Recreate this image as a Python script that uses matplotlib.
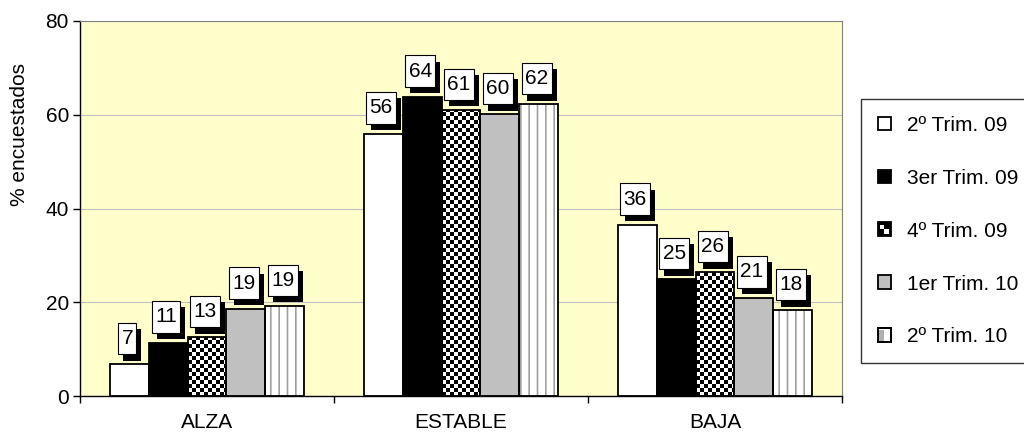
import numpy as np
import matplotlib.pyplot as plt
import matplotlib.patheffects as pe
from matplotlib.patches import Patch, Rectangle
from matplotlib.path import Path
from matplotlib.legend_handler import HandlerBase

plt.rcParams['font.family'] = ['Liberation Sans', 'DejaVu Sans']
plt.rcParams['hatch.linewidth'] = 1.2

categories = ['ALZA', 'ESTABLE', 'BAJA']
series = ['2º Trim. 09', '3er Trim. 09', '4º Trim. 09', '1er Trim. 10', '2º Trim. 10']

# bar heights, plus the rounded labels shown in the boxes
t2_09 = [6.8, 56.0, 36.5]
t3_09 = [11.4, 63.8, 24.9]
t4_09 = [12.5, 61.0, 26.4]
t1_10 = [18.6, 60.1, 21.0]
t2_10 = [19.2, 62.2, 18.3]
values = [t2_09, t3_09, t4_09, t1_10, t2_10]

lab_t2_09 = [7, 56, 36]
lab_t3_09 = [11, 64, 25]
lab_t4_09 = [13, 61, 26]
lab_t1_10 = [19, 60, 21]
lab_t2_10 = [19, 62, 18]
labels = [lab_t2_09, lab_t3_09, lab_t4_09, lab_t1_10, lab_t2_10]

yticks = [0, 20, 40, 60, 80]

FS = 15
W, H = 1024, 437
fig = plt.figure(figsize=(W / 100, H / 100), dpi=100)
ax = fig.add_axes([80 / W, 41 / H, 762 / W, 375 / H])
ax.set_facecolor('#FFFFCC')
ax.set_xlim(-0.5, 2.5)
ax.set_ylim(0, 80)

bw = 0.153
x = np.arange(len(categories))

# px per data unit, used to keep the checker cells square
px_x = 762 / 3.0
px_y = 375 / 80.0
cell = 4.0


def checker_fill(bar):
    x0 = bar.get_x()
    wd = bar.get_width()
    h = bar.get_height()
    dx = cell / px_x
    dy = cell / px_y
    nx = int(np.ceil(wd / dx)) + 1
    ny = int(np.ceil(h / dy)) + 1
    arr = np.indices((ny, nx)).sum(axis=0) % 2
    im = ax.imshow(arr, cmap='gray', vmin=0, vmax=1, interpolation='nearest',
                   extent=(x0, x0 + nx * dx, 0, ny * dy), origin='lower',
                   aspect='auto', zorder=2)
    im.set_clip_path(bar)


PAD_X, PAD_Y = 0.16, 0.30


def label_box(x0, y0, width, height, mutation_size):
    px = PAD_X * mutation_size
    py = PAD_Y * mutation_size
    x0, y0 = x0 - px, y0 - py
    x1, y1 = x0 + width + 2 * px, y0 + height + 2 * py
    return Path([(x0, y0), (x1, y0), (x1, y1), (x0, y1), (x0, y0)], closed=True)


styles = [
    dict(color='white'),
    dict(color='black'),
    dict(color='white'),
    dict(color='#C0C0C0'),
    dict(color='white', hatch='||', edgecolor='#A0A0A0', linewidth=0),
]

lift = 10 + PAD_Y * FS * 100 / 72
for j, (vals, labs) in enumerate(zip(values, labels)):
    pos = x + (j - 2) * bw
    bars = ax.bar(pos, vals, bw, zorder=2, **styles[j])
    if j == 2:
        for b in bars:
            checker_fill(b)
    ax.bar(pos, vals, bw, fill=False, edgecolor='black', linewidth=1.3, zorder=3)
    for xp, v, lab in zip(pos, vals, labs):
        t = ax.annotate(str(lab), xy=(xp, v), xytext=(-2, lift), textcoords='offset pixels',
                        ha='center', va='bottom', fontsize=FS, zorder=5,
                        bbox=dict(boxstyle=label_box, fc='white', ec='black', lw=0.8))
        t.get_bbox_patch().set_path_effects([
            pe.SimplePatchShadow(offset=(3.6, -4.6), shadow_rgbFace='black', alpha=1.0),
            pe.Normal()])

# axes styling
ax.set_yticks(yticks)
ax.tick_params(axis='y', direction='out', length=5, width=1, labelsize=FS, pad=3)
ax.grid(axis='y', color='#C0C0C0', linewidth=0.8, zorder=0)
ax.set_axisbelow(True)
ax.set_xticks([-0.5, 0.5, 1.5, 2.5])
ax.set_xticklabels([])
ax.tick_params(axis='x', which='major', direction='out', length=5, width=1)
ax.set_xticks(x, minor=True)
ax.set_xticklabels(categories, minor=True)
ax.tick_params(axis='x', which='minor', length=0, labelsize=FS, pad=12.5)
for s in ['top', 'right']:
    ax.spines[s].set_color('#808080')
for s in ['left', 'bottom']:
    ax.spines[s].set_color('black')
    ax.spines[s].set_linewidth(1)

fig.text(20 / W, 1 - 134 / H, '% encuestados', rotation=90, ha='center', va='center',
         fontsize=FS)


class CheckerHandler(HandlerBase):
    def create_artists(self, legend, orig_handle, xdescent, ydescent, width, height,
                       fontsize, trans):
        x0, y0 = -xdescent, -ydescent
        outer = Rectangle((x0, y0), width, height, fc='black', ec='black', lw=1.3,
                          transform=trans)
        w2, h2 = width / 2, height / 2
        q1 = Rectangle((x0 + 1.5, y0 + h2), w2 - 1.5, h2 - 1.5, fc='white', lw=0,
                       transform=trans)
        q2 = Rectangle((x0 + w2, y0 + 1.5), w2 - 1.5, h2 - 1.5, fc='white', lw=0,
                       transform=trans)
        return [outer, q1, q2]


class StripeHandler(HandlerBase):
    def create_artists(self, legend, orig_handle, xdescent, ydescent, width, height,
                       fontsize, trans):
        x0, y0 = -xdescent, -ydescent
        back = Rectangle((x0, y0), width, height, fc='white', ec='black', lw=1.3,
                         transform=trans)
        stripe = Rectangle((x0 + 1, y0 + 1), width * 0.4, height - 2, fc='#B0B0B0', lw=0,
                           transform=trans)
        edge = Rectangle((x0, y0), width, height, fill=False, ec='black', lw=1.3,
                         transform=trans)
        return [back, stripe, edge]


h_white = Patch(fc='white', ec='black', lw=1.3)
h_black = Patch(fc='black', ec='black', lw=1.3)
h_check = Patch(fc='black')
h_gray = Patch(fc='#C0C0C0', ec='black', lw=1.3)
h_stripe = Patch(fc='white')

leg = fig.legend([h_white, h_black, h_check, h_gray, h_stripe], series,
                 loc='upper left', bbox_to_anchor=(861 / W, 1 - 99 / H),
                 fontsize=FS, frameon=True, fancybox=False, edgecolor='black',
                 handlelength=0.62, handleheight=0.62, handletextpad=0.8,
                 labelspacing=1.63, borderpad=0.8, borderaxespad=0,
                 handler_map={h_check: CheckerHandler(), h_stripe: StripeHandler()})
leg.get_frame().set_linewidth(1.0)

fig.savefig('out.png', dpi=100)
